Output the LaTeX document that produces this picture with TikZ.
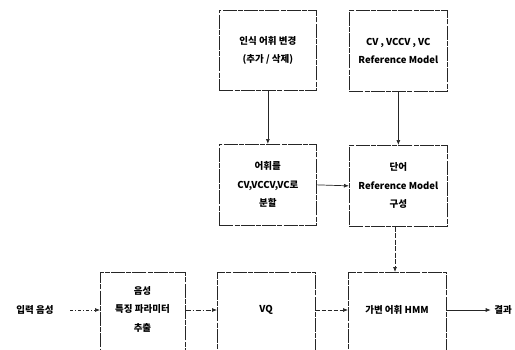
\documentclass[tikz,border=0pt]{standalone}
\usepackage{fontspec}
\setmainfont{Noto Sans CJK KR}
\usetikzlibrary{arrows.meta}
\begin{document}
\begin{tikzpicture}[x=1pt,y=-1pt,
  box/.style={draw=black!85, line width=0.7pt, dash pattern=on 14pt off 1.2pt on 5pt off 1.2pt, inner sep=0pt, anchor=north west, align=center, font=\fontsize{9.5}{18.5}\selectfont\bfseries},
  lbl/.style={font=\fontsize{9.5}{12}\selectfont\bfseries},
  arr/.style={draw=black!85, line width=0.7pt, -{Latex[length=5pt,width=4pt]}}]
\useasboundingbox (0,0) rectangle (515,349);
\fill[white] (0,0) rectangle (515,349);
\node[box, minimum width=97pt, minimum height=80pt] (A) at (219,10) {인식 어휘 변경\\(추가 / 삭제)};
\node[box, minimum width=98pt, minimum height=81pt] (B) at (349,10) {CV , VCCV , VC\\Reference Model};
\node[box, minimum width=97pt, minimum height=81pt] (C) at (219,144) {어휘를\\CV,VCCV,VC로\\분할};
\node[box, minimum width=98pt, minimum height=81pt] (D) at (349,145) {단어\\Reference Model\\구성};
\node[box, minimum width=85pt, minimum height=90pt] (E) at (100,272) {};
\node[box, minimum width=98pt, minimum height=90pt] (F) at (217,272) {};
\node[box, minimum width=98pt, minimum height=90pt] (G) at (348,272) {};
\node[align=center, font=\fontsize{9.5}{18.5}\selectfont\bfseries] (Et) at (142.5,309) {음성\\특징 파라미터\\추출};
\node[lbl] (Ft) at (266,310) {VQ};
\node[lbl] (Gt) at (397,310) {가변 어휘 HMM};
\node[lbl] (in) at (35,310) {입력 음성};
\node[lbl] (out) at (503,310) {결과};
\coordinate (inE) at (70,310);
\draw[arr] (A.south) -- (C.north);
\draw[arr] (B.south) -- (D.north);
\draw[arr] (C.east) -- (D.west);
\draw[arr, dash pattern=on 5pt off 1.5pt] (D.south -| 395,0) -- (395,272);
\draw[arr, dash pattern=on 3pt off 2pt on 1pt off 2pt] (inE) -- (E.west |- 0,310);
\draw[arr, dash pattern=on 5pt off 2pt on 1pt off 2pt] (E.east |- 0,310) -- (F.west |- 0,310);
\draw[arr, dash pattern=on 4pt off 2pt] (F.east |- 0,310) -- (G.west |- 0,310);
\draw[arr] (G.east |- 0,310) -- (out.west);
\end{tikzpicture}
\end{document}
